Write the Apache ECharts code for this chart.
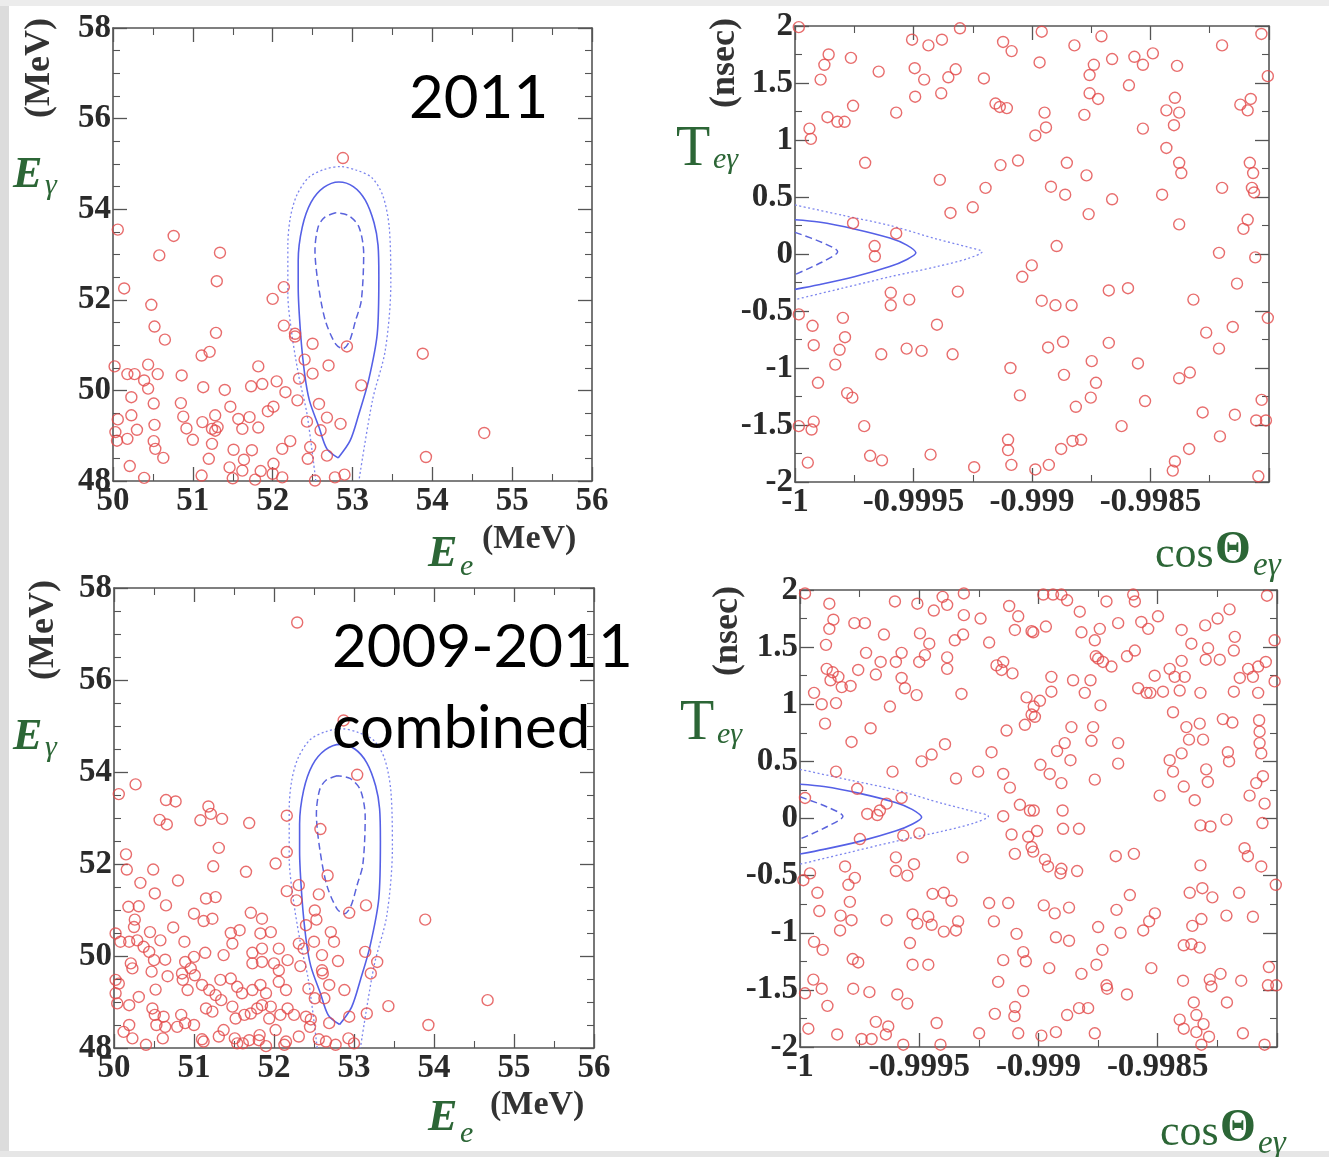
<!DOCTYPE html>
<html>
<head>
<meta charset="utf-8">
<script src="https://cdn.jsdelivr.net/npm/echarts@6/dist/echarts.min.js"></script>
<style>
  html, body { margin: 0; padding: 0; background: #fff; }
  #chart { width: 1329px; height: 1157px; }
</style>
</head>
<body>
<div id="chart"></div>
<script>
// 2011 events: [E_e, E_gamma] in MeV
const events2011E = [
  [50.06,53.55],[50.76,53.41],[50.58,52.98],[51.34,53.04],[51.30,52.41],[50.14,52.25],[52.14,52.28],[52.00,52.02],
  [50.48,51.89],[50.52,51.41],[50.65,51.12],[51.29,51.27],[52.14,51.43],[52.28,51.25],[52.28,51.19],[52.50,51.03],
  [52.93,50.97],[51.11,50.77],[51.21,50.85],[52.40,50.68],[52.70,50.55],[53.88,50.81],[50.02,50.53],[50.18,50.36],
  [50.27,50.36],[50.44,50.57],[50.56,50.36],[50.39,50.22],[50.44,50.04],[50.86,50.33],[51.82,50.53],[51.13,50.07],
  [51.40,50.01],[51.73,50.09],[51.87,50.14],[52.05,50.20],[52.16,49.96],[52.33,50.26],[52.31,49.78],[52.50,50.37],
  [53.11,50.11],[50.23,49.85],[50.51,49.71],[50.85,49.72],[50.88,49.42],[50.23,49.45],[50.06,49.36],[50.52,49.24],
  [50.92,49.16],[51.00,48.91],[51.12,49.30],[51.28,49.45],[51.24,49.15],[51.28,49.11],[51.31,49.19],[51.47,49.64],
  [51.57,49.37],[51.62,49.15],[51.71,49.41],[51.82,49.18],[51.94,49.54],[52.01,49.64],[52.58,49.70],[52.68,49.40],
  [52.43,49.31],[52.60,49.12],[52.85,49.26],[53.92,48.53],[50.03,49.08],[50.05,48.89],[50.18,48.93],[50.30,49.13],
  [50.51,48.88],[50.53,48.71],[50.63,48.51],[50.21,48.33],[51.24,48.82],[51.20,48.49],[51.51,48.69],[51.74,48.68],
  [51.64,48.47],[52.01,48.38],[52.12,48.71],[52.22,48.88],[52.47,48.75],[52.44,48.49],[52.68,48.56],[50.39,48.07],
  [51.11,48.12],[51.46,48.30],[51.62,48.23],[51.85,48.22],[52.00,48.16],[52.12,48.08],[52.53,48.01],[52.78,48.08],
  [52.90,48.14],[51.50,48.06],[51.78,48.03],[52.88,55.13],[54.65,49.06]
];

// 2011 events: [cos Theta_e_gamma, T_e_gamma (ns)]
const events2011T = [
  [-0.999984,1.99],[-0.999506,1.88],[-0.999437,1.83],[-0.99938,1.88],[-0.999304,1.98],[-0.999122,1.86],[-0.999086,1.78],
  [-0.998959,1.95],[-0.998821,1.83],[-0.998707,1.91],[-0.998662,1.71],[-0.998568,1.73],[-0.998532,1.66],[-0.99849,1.76],
  [-0.998198,1.83],[-0.998032,1.93],[-0.999858,1.75],[-0.999876,1.66],[-0.999764,1.72],[-0.999892,1.53],[-0.999647,1.60],
  [-0.999495,1.63],[-0.999455,1.53],[-0.999322,1.62],[-0.999353,1.55],[-0.999203,1.54],[-0.998968,1.68],[-0.998739,1.66],
  [-0.998757,1.57],[-0.998591,1.48],[-0.998388,1.65],[-0.998005,1.56],[-0.999493,1.38],[-0.999383,1.41],[-0.999755,1.30],
  [-0.999573,1.24],[-0.999154,1.32],[-0.999136,1.29],[-0.999106,1.28],[-0.998947,1.24],[-0.998757,1.41],[-0.998721,1.36],
  [-0.998397,1.37],[-0.998433,1.26],[-0.998379,1.24],[-0.998121,1.31],[-0.99809,1.26],[-0.998077,1.36],[-0.999863,1.20],
  [-0.999821,1.16],[-0.999791,1.16],[-0.999939,1.10],[-0.999933,1.01],[-0.998779,1.22],[-0.998941,1.11],[-0.998986,1.04],
  [-0.998532,1.10],[-0.998401,1.13],[-0.998433,0.93],[-0.999704,0.80],[-0.999133,0.78],[-0.999059,0.82],[-0.998853,0.80],
  [-0.998379,0.80],[-0.99837,0.71],[-0.99877,0.69],[-0.998081,0.80],[-0.998067,0.71],[-0.999389,0.65],[-0.999196,0.58],
  [-0.99892,0.59],[-0.99886,0.52],[-0.998662,0.48],[-0.998451,0.52],[-0.998198,0.58],[-0.998072,0.58],[-0.998063,0.54],
  [-0.999344,0.36],[-0.99925,0.41],[-0.998761,0.35],[-0.99809,0.30],[-0.998108,0.22],[-0.998379,0.26],[-0.999755,0.27],
  [-0.999573,0.18],[-0.999664,0.07],[-0.999663,-0.02],[-0.998896,0.07],[-0.998211,0.01],[-0.998058,-0.03],[-0.999001,-0.10],
  [-0.999041,-0.20],[-0.998135,-0.26],[-0.998676,-0.32],[-0.998595,-0.30],[-0.999313,-0.33],[-0.999596,-0.34],[-0.999596,-0.45],
  [-0.999518,-0.40],[-0.998959,-0.41],[-0.998901,-0.45],[-0.998833,-0.45],[-0.998319,-0.40],[-0.999984,-0.53],[-0.999926,-0.63],
  [-0.999798,-0.56],[-0.999789,-0.73],[-0.999921,-0.80],[-0.999812,-0.84],[-0.99983,-0.97],[-0.999401,-0.62],[-0.999529,-0.83],
  [-0.999466,-0.85],[-0.999636,-0.88],[-0.999335,-0.88],[-0.998932,-0.82],[-0.998869,-0.77],[-0.998676,-0.78],[-0.998265,-0.69],
  [-0.998153,-0.64],[-0.998211,-0.83],[-0.998005,-0.56],[-0.999091,-1.00],[-0.998748,-0.94],[-0.998553,-0.96],[-0.998865,-1.06],
  [-0.99873,-1.13],[-0.998334,-1.04],[-0.998379,-1.09],[-0.999903,-1.13],[-0.999051,-1.24],[-0.998752,-1.26],[-0.998815,-1.34],
  [-0.998523,-1.29],[-0.998031,-1.28],[-0.998013,-1.46],[-0.998054,-1.46],[-0.99978,-1.22],[-0.999758,-1.26],[-0.999984,-1.51],
  [-0.999921,-1.47],[-0.99993,-1.54],[-0.999708,-1.51],[-0.998622,-1.51],[-0.99828,-1.39],[-0.998144,-1.41],[-0.998207,-1.60],
  [-0.999101,-1.63],[-0.999101,-1.72],[-0.998829,-1.64],[-0.998793,-1.63],[-0.998877,-1.71],[-0.998337,-1.71],[-0.999946,-1.83],
  [-0.999683,-1.77],[-0.999633,-1.81],[-0.999428,-1.76],[-0.999244,-1.87],[-0.999087,-1.85],[-0.998986,-1.89],[-0.998929,-1.85],
  [-0.998397,-1.82],[-0.998406,-1.90],[-0.998045,-1.95]
];

// 2009-2011 combined events: [E_e, E_gamma] in MeV
const eventsAllE = [
  [53.04,53.94],[50.27,53.73],[50.06,53.52],[50.65,53.39],[50.77,53.36],[51.18,53.25],[51.21,53.09],[50.57,52.96],
  [50.66,52.86],[51.08,52.95],[51.35,52.98],[51.69,52.89],[52.16,53.05],[52.58,52.76],[51.31,52.35],[50.15,52.21],
  [50.16,51.88],[50.49,51.88],[51.24,51.95],[51.65,51.83],[52.02,52.01],[52.16,52.26],[52.67,51.75],[50.33,51.59],
  [50.80,51.64],[50.51,51.36],[52.16,51.41],[52.31,51.54],[52.28,51.21],[52.56,51.34],[53.15,51.10],[52.94,50.94],
  [53.89,50.79],[51.15,51.25],[51.27,51.28],[50.18,51.07],[50.31,51.08],[50.65,51.10],[51.00,50.92],[51.12,50.76],
  [51.23,50.81],[51.71,50.94],[51.85,50.81],[52.51,50.99],[52.53,50.79],[52.40,50.67],[52.71,50.52],[50.26,50.79],
  [50.25,50.63],[50.02,50.49],[50.45,50.52],[50.74,50.62],[51.57,50.56],[51.83,50.49],[51.96,50.52],[52.75,50.31],
  [50.08,50.31],[50.19,50.31],[50.29,50.34],[50.37,50.20],[50.44,50.09],[50.58,50.34],[50.88,50.31],[51.48,50.27],
  [51.46,50.50],[51.73,50.07],[51.85,50.16],[52.06,50.16],[52.31,50.27],[52.37,50.16],[52.50,50.31],[52.60,50.02],
  [53.14,50.09],[53.29,49.87],[53.21,49.62],[52.80,49.89],[50.21,49.84],[50.23,49.73],[50.50,49.91],[50.64,49.92],
  [50.89,49.87],[51.14,50.07],[51.00,49.98],[51.37,50.02],[51.73,49.84],[51.85,49.87],[52.00,49.84],[52.06,49.69],
  [52.17,49.91],[52.33,49.78],[52.60,49.69],[52.61,49.62],[50.47,49.66],[50.67,49.56],[50.85,49.62],[50.96,49.73],
  [51.01,49.58],[50.02,49.48],[50.06,49.40],[50.52,49.27],[50.86,49.48],[50.92,49.26],[51.10,49.37],[51.19,49.26],
  [51.27,49.15],[51.33,49.48],[51.46,49.51],[51.54,49.33],[51.60,49.19],[51.73,49.26],[51.83,49.37],[51.90,49.19],
  [52.06,49.44],[52.15,49.26],[52.43,49.29],[52.51,49.08],[52.63,49.08],[52.69,49.37],[52.88,49.26],[53.43,48.91],
  [53.93,48.50],[50.02,49.19],[50.04,48.97],[50.19,48.93],[50.31,49.11],[50.48,48.86],[50.51,48.72],[50.62,48.68],
  [50.64,48.46],[50.53,48.50],[50.84,48.72],[50.89,48.54],[51.00,48.50],[51.15,48.86],[51.23,48.79],[51.34,49.04],
  [51.48,48.90],[51.52,48.64],[51.63,48.72],[51.71,48.75],[51.79,48.86],[51.85,48.93],[51.94,48.64],[51.96,48.90],
  [52.08,48.72],[52.17,48.86],[52.25,48.72],[52.40,48.68],[52.46,48.62],[52.45,48.46],[52.69,48.54],[52.94,48.68],
  [53.16,48.75],[50.12,48.35],[50.19,48.50],[50.23,48.21],[50.40,48.07],[50.61,48.21],[50.79,48.46],[51.10,48.19],
  [51.12,48.14],[51.31,48.25],[51.37,48.39],[51.51,48.21],[51.54,48.10],[51.61,48.10],[51.69,48.17],[51.81,48.17],
  [51.82,48.28],[51.90,48.04],[52.02,48.39],[52.13,48.07],[52.15,48.14],[52.31,48.25],[52.56,48.19],[52.65,48.14],
  [52.77,48.07],[52.93,48.21],[53.00,48.10],[52.29,57.25],[52.87,55.12],[54.67,49.04]
];

// 2009-2011 combined events: [cos Theta_e_gamma, T_e_gamma (ns)]
const eventsAllT = [
  [-0.999979,1.97],[-0.999877,1.88],[-0.99986,1.74],[-0.999877,1.66],[-0.999891,1.52],[-0.999772,1.71],[-0.999728,1.71],
  [-0.999648,1.61],[-0.999723,1.45],[-0.999602,1.90],[-0.999508,1.88],[-0.999497,1.62],[-0.999458,1.53],[-0.999476,1.43],
  [-0.9995,1.37],[-0.999439,1.82],[-0.999402,1.94],[-0.999383,1.87],[-0.999313,1.97],[-0.999313,1.78],[-0.999243,1.75],
  [-0.999316,1.61],[-0.999351,1.56],[-0.999207,1.54],[-0.999383,1.41],[-0.999383,1.31],[-0.999123,1.86],[-0.999085,1.77],
  [-0.999099,1.65],[-0.999029,1.64],[-0.999574,1.45],[-0.999598,1.37],[-0.999662,1.37],[-0.999682,1.26],[-0.999756,1.30],
  [-0.999888,1.31],[-0.999863,1.28],[-0.999839,1.24],[-0.999872,1.21],[-0.999825,1.15],[-0.999788,1.16],[-0.999574,1.23],
  [-0.99956,1.14],[-0.999511,1.08],[-0.999323,1.09],[-0.999176,1.34],[-0.999148,1.37],[-0.999155,1.30],[-0.999109,1.27],
  [-0.999941,1.10],[-0.999909,1.00],[-0.999849,1.01],[-0.999623,0.98],[-0.99905,1.06],[-0.999029,0.91],[-0.999057,0.82],
  [-0.999895,0.83],[-0.999704,0.79],[-0.999784,0.67],[-0.999134,0.77],[-0.999392,0.65],[-0.999448,0.56],[-0.99949,0.50],
  [-0.999197,0.58],[-0.999849,0.41],[-0.999612,0.41],[-0.999346,0.35],[-0.999253,0.41],[-0.999148,0.39],[-0.99912,0.27],
  [-0.99976,0.26],[-0.999979,0.18],[-0.999574,0.18],[-0.999637,0.13],[-0.999665,0.07],[-0.999718,0.04],[-0.999078,0.12],
  [-0.999036,0.07],
  [-0.99898,1.96],[-0.998939,1.96],[-0.998904,1.96],[-0.99888,1.91],[-0.998827,1.81],[-0.998715,1.90],[-0.998603,1.96],
  [-0.998596,1.90],[-0.998042,1.95],[-0.998499,1.77],[-0.998199,1.83],[-0.998249,1.75],[-0.998301,1.69],[-0.998177,1.59],
  [-0.998181,1.47],[-0.999022,1.63],[-0.998969,1.68],[-0.99882,1.63],[-0.998743,1.66],[-0.998764,1.56],[-0.998666,1.71],
  [-0.998569,1.72],[-0.99854,1.66],[-0.9984,1.65],[-0.998359,1.53],[-0.998289,1.49],[-0.99801,1.56],[-0.99876,1.42],
  [-0.99875,1.40],[-0.99873,1.37],[-0.998694,1.33],[-0.998629,1.42],[-0.998596,1.47],[-0.9984,1.38],[-0.99845,1.31],
  [-0.998429,1.24],[-0.998387,1.24],[-0.998513,1.25],[-0.998299,1.39],[-0.99824,1.39],[-0.998156,1.23],[-0.998121,1.31],
  [-0.998079,1.33],[-0.998047,1.37],[-0.99801,1.20],[-0.998101,1.24],[-0.998946,1.24],[-0.998855,1.21],[-0.998782,1.21],
  [-0.998806,1.10],[-0.998582,1.14],[-0.998547,1.10],[-0.998531,1.10],[-0.998478,1.11],[-0.998408,1.12],[-0.998321,1.10],
  [-0.998181,1.11],[-0.998079,1.10],[-0.998946,1.11],[-0.998994,1.03],[-0.99902,0.98],[-0.99874,0.99],[-0.999015,0.89],
  [-0.998436,0.93],[-0.998862,0.80],[-0.998771,0.80],[-0.998778,0.68],[-0.998666,0.66],[-0.99838,0.80],[-0.998324,0.83],
  [-0.998227,0.87],[-0.998187,0.84],[-0.998075,0.86],[-0.998073,0.76],[-0.998369,0.69],[-0.99831,0.69],[-0.99889,0.66],
  [-0.998922,0.59],[-0.998866,0.51],[-0.9984,0.57],[-0.998206,0.58],[-0.998201,0.50],[-0.998073,0.66],[-0.998066,0.57],
  [-0.998666,0.48],[-0.99845,0.51],[-0.998436,0.41],[-0.998297,0.43],[-0.99829,0.32],[-0.998992,0.47],[-0.998953,0.39],
  [-0.998904,0.31],[-0.998764,0.34],[-0.998391,0.28],[-0.998059,0.37],[-0.998087,0.31],[-0.998115,0.20],[-0.998492,0.20],
  [-0.998345,0.16],[-0.998052,0.13],[-0.99902,0.07],[-0.998899,0.07],
  [-0.999676,0.03],[-0.999749,-0.18],[-0.999567,-0.15],[-0.9995,-0.13],[-0.999598,-0.34],[-0.999522,-0.40],[-0.999598,-0.46],
  [-0.99955,-0.50],[-0.999318,-0.34],[-0.999811,-0.42],[-0.99977,-0.52],[-0.999797,-0.58],[-0.999958,-0.48],[-0.999986,-0.54],
  [-0.999927,-0.65],[-0.999791,-0.73],[-0.999919,-0.81],[-0.99983,-0.85],[-0.999784,-0.89],[-0.999832,-0.98],[-0.999637,-0.89],
  [-0.999528,-0.84],[-0.999508,-0.92],[-0.999462,-0.86],[-0.999444,-0.66],[-0.999397,-0.65],[-0.999365,-0.72],[-0.999337,-0.90],
  [-0.999346,-0.98],[-0.999397,-0.99],[-0.999448,-0.93],[-0.999207,-0.74],[-0.999127,-0.74],[-0.999187,-0.90],[-0.999092,-1.01],
  [-0.999941,-1.08],[-0.999905,-1.15],[-0.999539,-1.09],[-0.999779,-1.23],[-0.999756,-1.26],[-0.999528,-1.28],[-0.999462,-1.28],
  [-0.999148,-1.24],[-0.999064,-1.17],[-0.999053,-1.25],[-0.999944,-1.41],[-0.999979,-1.53],[-0.999909,-1.49],[-0.999885,-1.64],
  [-0.999777,-1.49],[-0.999709,-1.52],[-0.999592,-1.54],[-0.99955,-1.62],[-0.999169,-1.43],[-0.999064,-1.51],[-0.999183,-1.71],
  [-0.999098,-1.65],[-0.999101,-1.73],[-0.999682,-1.78],[-0.99963,-1.82],[-0.99964,-1.89],[-0.999427,-1.79],[-0.999965,-1.84],
  [-0.999844,-1.89],[-0.999742,-1.93],[-0.9997,-1.93],[-0.999567,-1.98],[-0.999411,-1.98],[-0.999249,-1.88],[-0.999085,-1.88],
  [-0.999148,0.02],[-0.999113,-0.14],[-0.999043,-0.16],[-0.999029,-0.25],[-0.999099,-0.31],
  [-0.999006,-0.11],[-0.998897,-0.09],[-0.99883,-0.09],[-0.999022,-0.29],[-0.998973,-0.36],[-0.99896,-0.42],[-0.998904,-0.44],
  [-0.998908,-0.48],[-0.998838,-0.46],[-0.998676,-0.33],[-0.9986,-0.31],[-0.998321,-0.06],[-0.998279,-0.07],[-0.998212,-0.01],
  [-0.998061,-0.04],[-0.998136,-0.26],[-0.998122,-0.33],[-0.998066,-0.42],[-0.998321,-0.41],[-0.998005,-0.58],[-0.998366,-0.65],
  [-0.998313,-0.61],[-0.998271,-0.69],[-0.998159,-0.65],[-0.998212,-0.85],[-0.998101,-0.86],[-0.998617,-0.67],[-0.998673,-0.80],
  [-0.998512,-0.83],[-0.998536,-0.90],[-0.998561,-0.98],[-0.998978,-0.76],[-0.998932,-0.83],[-0.998872,-0.78],[-0.99875,-0.95],
  [-0.998656,-1.00],[-0.998927,-1.04],[-0.998872,-1.07],[-0.998732,-1.15],[-0.998757,-1.28],[-0.99882,-1.36],[-0.998955,-1.31],
  [-0.998715,-1.46],[-0.998712,-1.49],[-0.998629,-1.54],[-0.998527,-1.31],[-0.998391,-1.11],[-0.998359,-1.10],[-0.998324,-1.13],
  [-0.998355,-0.94],[-0.998317,-0.88],[-0.998394,-1.42],[-0.998282,-1.41],[-0.998237,-1.36],[-0.998275,-1.47],[-0.99815,-1.42],
  [-0.99821,-1.61],[-0.998034,-1.30],[-0.998038,-1.46],[-0.998003,-1.46],[-0.99888,-1.72],[-0.99883,-1.66],[-0.998792,-1.66],
  [-0.998927,-1.87],[-0.998988,-1.90],[-0.998764,-1.88],[-0.998349,-1.61],[-0.998338,-1.72],[-0.998408,-1.76],[-0.998391,-1.84],
  [-0.998308,-1.80],[-0.998338,-1.87],[-0.998285,-1.91],[-0.998317,-1.98],[-0.998143,-1.88],[-0.998052,-1.98]
];

// signal PDF contours in (E_e, E_gamma)
const eContourOuter = [
  [52.54,48.0],[52.43,49.48],[52.33,50.29],[52.24,51.25],[52.19,52.13],[52.19,53.2],[52.22,53.8],[52.3,54.3],[52.45,54.7],
  [52.65,54.88],[52.85,54.94],[53.05,54.86],[53.24,54.7],[53.38,54.3],[53.46,53.6],[53.48,52.36],[53.41,50.88],[53.25,49.78],[53.08,48.0]
];
const eContourMid = [
  [52.82,48.51],[52.68,48.71],[52.58,49.19],[52.46,49.78],[52.40,50.37],[52.35,51.25],[52.32,52.28],[52.32,52.87],[52.37,53.6],
  [52.48,54.15],[52.64,54.48],[52.83,54.6],[53.01,54.5],[53.16,54.2],[53.27,53.7],[53.32,53.2],[53.33,52.5],[53.31,51.25],
  [53.20,50.21],[53.08,49.48],[52.97,48.89],[52.82,48.51]
];
const eContourInner = [
  [52.79,53.92],[52.65,53.82],[52.57,53.61],[52.53,53.09],[52.57,52.35],[52.66,51.54],[52.79,51.02],[52.88,50.92],[52.96,51.08],
  [53.04,51.55],[53.11,51.98],[53.14,53.02],[53.08,53.61],[52.95,53.86],[52.79,53.92]
];
// signal PDF contours in (cos Theta, T)
const tContourOuter = [
  [-1,0.43],[-0.9998,0.34],[-0.9996,0.25],[-0.9994,0.13],[-0.99927,0.06],[-0.99921,0.02],[-0.99927,-0.04],[-0.9994,-0.11],
  [-0.9996,-0.2],[-0.9998,-0.3],[-1,-0.4]
];
const tContourMid = [
  [-1,0.30],[-0.9999,0.28],[-0.99975,0.22],[-0.9996,0.14],[-0.99953,0.08],[-0.99949,0.01],[-0.99953,-0.05],[-0.9996,-0.11],
  [-0.99975,-0.2],[-0.9999,-0.27],[-1,-0.31]
];
const tContourInner = [
  [-1,0.19],[-0.999885,0.10],[-0.99982,0.02],[-0.999885,-0.07],[-1,-0.18]
];

// axis ranges [min, max, label step, minor divisions]
const eeAxis = [50, 56, 1, 2];
const egAxis = [48, 58, 2, 4];
const cosAxis = [-1, -0.998, 0.0005, 2];
const tAxis = [-2, 2, 0.5, 2];

const panelTitles = ['2011', '2009-2011', 'combined'];

const serif = 'Liberation Serif';
const green = '#2c6636';
const axisColor = '#555';

const grids = [
  { left: 113, top: 28, width: 479, height: 453 },
  { left: 795, top: 26, width: 474, height: 456 },
  { left: 114, top: 588, width: 480, height: 460 },
  { left: 800, top: 590, width: 477, height: 457 }
];

const cosFmt = v => Math.abs(v + 0.998) < 1e-7 ? '' : String(+v.toFixed(4));

function makeAxes (g, ax, fmt, dim) {
  const base = {
    gridIndex: g,
    type: 'value',
    min: ax[0],
    max: ax[1],
    interval: ax[2],
    axisLine: { show: true, onZero: false, lineStyle: { color: axisColor, width: 1.6 } },
    axisTick: { show: true, inside: true, length: 14, lineStyle: { color: axisColor, width: 1.3 } },
    minorTick: { show: true, splitNumber: ax[3], length: 7, lineStyle: { color: axisColor, width: 1.1 } },
    splitLine: { show: false },
    minorSplitLine: { show: false }
  }
  const label = {
    show: true,
    margin: dim === 'x' ? 4 : 2,
    fontFamily: serif,
    fontWeight: 'bold',
    fontSize: 33,
    color: '#2a2a2a',
    formatter: fmt
  }
  return [
    Object.assign({}, base, { position: dim === 'x' ? 'bottom' : 'left', axisLabel: label }),
    Object.assign({}, base, { position: dim === 'x' ? 'top' : 'right', axisLabel: { show: false } })
  ]
}

const xAxis = [].concat(
  makeAxes(0, eeAxis, null, 'x'),
  makeAxes(1, cosAxis, cosFmt, 'x'),
  makeAxes(2, eeAxis, null, 'x'),
  makeAxes(3, cosAxis, cosFmt, 'x')
);
const yAxis = [].concat(
  makeAxes(0, egAxis, null, 'y'),
  makeAxes(1, tAxis, null, 'y'),
  makeAxes(2, egAxis, null, 'y'),
  makeAxes(3, tAxis, null, 'y')
);

function scatter (g, data) {
  return {
    type: 'scatter',
    xAxisIndex: 2 * g,
    yAxisIndex: 2 * g,
    data: data,
    symbol: 'circle',
    symbolSize: 11,
    itemStyle: { color: 'rgba(255,255,255,0)', borderColor: '#e24848', borderWidth: 1.4 },
    silent: true,
    z: 5
  }
}

function contour (g, data, kind) {
  const styles = {
    solid: { color: '#5560e6', width: 1.6, type: 'solid' },
    dashed: { color: '#5a63dc', width: 1.5, type: [7, 4] },
    dotted: { color: '#7d86ee', width: 1.3, type: [2, 2.5] }
  }
  return {
    type: 'line',
    xAxisIndex: 2 * g,
    yAxisIndex: 2 * g,
    data: data,
    symbol: 'none',
    smooth: 0.3,
    lineStyle: styles[kind],
    silent: true,
    z: 3
  }
}

function text (x, y, str, font, fill) {
  return {
    type: 'text',
    x: x,
    y: y,
    z: 100,
    style: { text: str, font: font, fill: fill, align: 'left', verticalAlign: 'middle' }
  }
}
function vtext (x, y, str) {
  return {
    type: 'text',
    x: x,
    y: y,
    rotation: Math.PI / 2,
    z: 100,
    style: { text: str, font: 'bold 36px "' + serif + '"', fill: '#333', align: 'center', verticalAlign: 'middle' }
  }
}

const italicBig = 'italic bold 44px "' + serif + '"';
const italicSub = 'italic 30px "' + serif + '"';
const unitFont = 'bold 34px "' + serif + '"';
const titleFont = '60px Lato';
const tFont = '56px "' + serif + '"';
const cosFont = '44px "' + serif + '"';
const thetaFont = 'bold 46px "' + serif + '"';
const subSmall = 'italic 33px "' + serif + '"';

const graphic = [
  { type: 'rect', z: -10, shape: { x: 0, y: 0, width: 9, height: 1157 }, style: { fill: '#dcdcdc' } },
  { type: 'rect', z: -10, shape: { x: 0, y: 0, width: 1329, height: 6 }, style: { fill: '#ececec' } },
  { type: 'rect', z: -10, shape: { x: 0, y: 1151, width: 1329, height: 6 }, style: { fill: '#e6e6e6' } },
  // top left
  vtext(40, 68, '(MeV)'),
  text(13, 176, 'E', italicBig, green),
  text(45, 186, 'γ', italicSub, green),
  text(428, 555, 'E', italicBig, green),
  text(460, 567, 'e', italicSub, green),
  text(482, 539, '(MeV)', unitFont, '#333'),
  text(409, 99, panelTitles[0], titleFont, '#000'),
  // top right
  vtext(725, 63, '(nsec)'),
  text(676, 150, 'T', tFont, green),
  text(713, 160, 'eγ', italicSub, green),
  text(1155, 555, 'cos', cosFont, green),
  text(1215, 551, 'Θ', thetaFont, green),
  text(1253, 566, 'eγ', subSmall, green),
  // bottom left
  vtext(44, 630, '(MeV)'),
  text(13, 738, 'E', italicBig, green),
  text(45, 748, 'γ', italicSub, green),
  text(332, 648, panelTitles[1], titleFont, '#000'),
  text(332, 729, panelTitles[2], titleFont, '#000'),
  text(428, 1119, 'E', italicBig, green),
  text(460, 1134, 'e', italicSub, green),
  text(490, 1105, '(MeV)', unitFont, '#333'),
  // bottom right
  vtext(728, 631, '(nsec)'),
  text(680, 724, 'T', tFont, green),
  text(717, 735, 'eγ', italicSub, green),
  text(1160, 1133, 'cos', cosFont, green),
  text(1220, 1129, 'Θ', thetaFont, green),
  text(1258, 1144, 'eγ', subSmall, green)
];

const chart = echarts.init(document.getElementById('chart'));
chart.setOption({
  backgroundColor: '#ffffff',
  animation: false,
  grid: grids.map(g => Object.assign({ show: false, containLabel: false, outerBoundsMode: 'none' }, g)),
  xAxis: xAxis,
  yAxis: yAxis,
  graphic: graphic,
  series: [
    contour(0, eContourOuter, 'dotted'),
    contour(0, eContourMid, 'solid'),
    contour(0, eContourInner, 'dashed'),
    scatter(0, events2011E),
    contour(1, tContourOuter, 'dotted'),
    contour(1, tContourMid, 'solid'),
    contour(1, tContourInner, 'dashed'),
    scatter(1, events2011T),
    contour(2, eContourOuter, 'dotted'),
    contour(2, eContourMid, 'solid'),
    contour(2, eContourInner, 'dashed'),
    scatter(2, eventsAllE),
    contour(3, tContourOuter, 'dotted'),
    contour(3, tContourMid, 'solid'),
    contour(3, tContourInner, 'dashed'),
    scatter(3, eventsAllT)
  ]
});
</script>
</body>
</html>
